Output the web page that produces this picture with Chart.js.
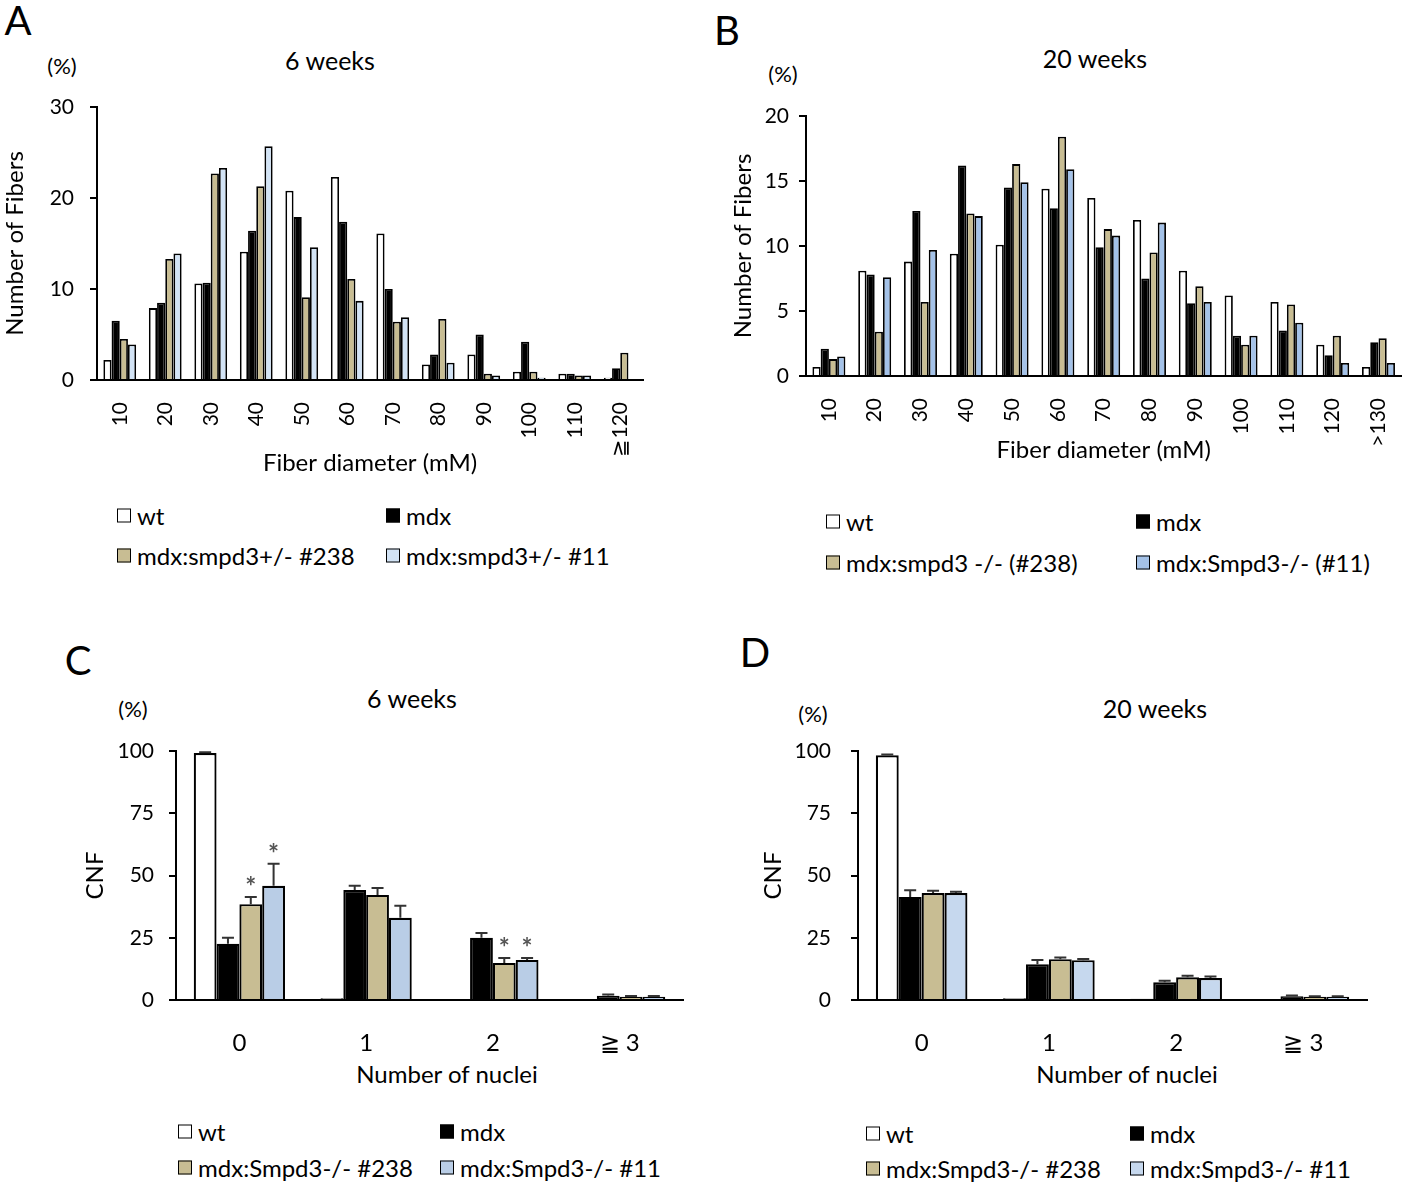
<!DOCTYPE html>
<html>
<head>
<meta charset="utf-8">
<script src="https://cdn.jsdelivr.net/npm/chart.js@4.4.1/dist/chart.umd.min.js"></script>
<style>
  body { margin: 0; background: #fff; }
  #fig { position: relative; width: 1418px; height: 1185px; overflow: hidden; font-family: Lato, "Liberation Sans", sans-serif; color: #000; }
  #fig canvas { position: absolute; }
  .t { position: absolute; white-space: nowrap; transform: translate(-50%, -50%); }
  .letter { font-size: 40px; }
  .ttl { font-size: 25px; }
  .pct { font-size: 22px; }
  .axt { font-size: 24px; }
  .lg { position: absolute; white-space: nowrap; font-size: 24px; transform: translateY(-50%); display: flex; align-items: center; }
  .lg i { display: inline-block; width: 12px; height: 12px; border: 1.5px solid #000; margin-right: 6px; }
</style>
</head>
<body>
<div id="fig">
  <div class="t letter" style="left:18px;top:20px">A</div>
  <div class="t letter" style="left:727px;top:30px">B</div>
  <div class="t letter" style="left:78px;top:660px">C</div>
  <div class="t letter" style="left:755px;top:652px">D</div>

  <div class="t ttl" style="left:330px;top:60px">6 weeks</div>
  <div class="t ttl" style="left:1095px;top:58px">20 weeks</div>
  <div class="t ttl" style="left:412px;top:698px">6 weeks</div>
  <div class="t ttl" style="left:1155px;top:708px">20 weeks</div>

  <div class="t pct" style="left:62px;top:65px">(%)</div>
  <div class="t pct" style="left:783px;top:73px">(%)</div>
  <div class="t pct" style="left:133px;top:708px">(%)</div>
  <div class="t pct" style="left:813px;top:713px">(%)</div>

  <div class="t axt" style="left:447px;top:1073px">Number of nuclei</div>
  <div class="t axt" style="left:1127px;top:1073px">Number of nuclei</div>

  <canvas id="chartA" width="700" height="490" style="left:0px;top:0px"></canvas>
  <canvas id="chartB" width="718" height="480" style="left:700px;top:0px"></canvas>
  <canvas id="chartC" width="700" height="490" style="left:0px;top:600px"></canvas>
  <canvas id="chartD" width="718" height="490" style="left:700px;top:600px"></canvas>

  <div class="lg" style="left:117px;top:515px"><i style="background:#fff"></i>wt</div>
  <div class="lg" style="left:386px;top:515px"><i style="background:#000"></i>mdx</div>
  <div class="lg" style="left:117px;top:555px"><i style="background:#c8bd93"></i>mdx:smpd3+/- #238</div>
  <div class="lg" style="left:386px;top:555px"><i style="background:#d2e3f5"></i>mdx:smpd3+/- #11</div>

  <div class="lg" style="left:826px;top:521px"><i style="background:#fff"></i>wt</div>
  <div class="lg" style="left:1136px;top:521px"><i style="background:#000"></i>mdx</div>
  <div class="lg" style="left:826px;top:562px"><i style="background:#c8bd93"></i>mdx:smpd3 -/- (#238)</div>
  <div class="lg" style="left:1136px;top:562px"><i style="background:#a4c2e8"></i>mdx:Smpd3-/- (#11)</div>

  <div class="lg" style="left:178px;top:1131px"><i style="background:#fff"></i>wt</div>
  <div class="lg" style="left:440px;top:1131px"><i style="background:#000"></i>mdx</div>
  <div class="lg" style="left:178px;top:1167px"><i style="background:#c8bd93"></i>mdx:Smpd3-/- #238</div>
  <div class="lg" style="left:440px;top:1167px"><i style="background:#b9cde6"></i>mdx:Smpd3-/- #11</div>

  <div class="lg" style="left:866px;top:1133px"><i style="background:#fff"></i>wt</div>
  <div class="lg" style="left:1130px;top:1133px"><i style="background:#000"></i>mdx</div>
  <div class="lg" style="left:866px;top:1168px"><i style="background:#c8bd93"></i>mdx:Smpd3-/- #238</div>
  <div class="lg" style="left:1130px;top:1168px"><i style="background:#c6d8ee"></i>mdx:Smpd3-/- #11</div>
</div>

<script>
// Panel A: fiber diameter distribution, 6 weeks (%)
const binsA = ['10', '20', '30', '40', '50', '60', '70', '80', '90', '100', '110', '≧120'];
const wtA = [2.2, 7.9, 10.6, 14.1, 20.8, 22.3, 16.1, 1.7, 2.8, 0.9, 0.7, 0.25];
const mdxA = [6.5, 8.5, 10.7, 16.4, 17.9, 17.4, 10.0, 2.8, 5.0, 4.2, 0.7, 1.3];
const het238A = [4.5, 13.3, 22.7, 21.3, 9.1, 11.1, 6.4, 6.7, 0.7, 0.9, 0.5, 3.0];
const het11A = [3.9, 13.9, 23.3, 25.7, 14.6, 8.7, 6.9, 1.9, 0.5, 0.25, 0.5, 0];

// Panel B: fiber diameter distribution, 20 weeks (%)
const binsB = ['10', '20', '30', '40', '50', '60', '70', '80', '90', '100', '110', '120', '>130'];
const wtB = [0.7, 8.1, 8.8, 9.4, 10.1, 14.4, 13.7, 12.0, 8.1, 6.2, 5.7, 2.4, 0.7];
const mdxB = [2.1, 7.8, 12.7, 16.2, 14.5, 12.9, 9.9, 7.5, 5.6, 3.1, 3.5, 1.6, 2.6];
const ko238B = [1.3, 3.4, 5.7, 12.5, 16.3, 18.4, 11.3, 9.5, 6.9, 2.4, 5.5, 3.1, 2.9];
const ko11B = [1.5, 7.6, 9.7, 12.3, 14.9, 15.9, 10.8, 11.8, 5.7, 3.1, 4.1, 1.0, 1.0];

// Panels C and D: centrally nucleated fibers by number of nuclei
const nuclei = ['0', '1', '2', '≧ 3'];
const wtC = [99.2, 0.7, 0, 0];
const mdxC = [22.6, 44.2, 25.0, 1.7];
const ko238C = [38.5, 42.2, 14.9, 1.3];
const ko11C = [45.9, 33.0, 16.1, 1.3];
const wtCErr = [0.3, 0, 0, 0];
const mdxCErr = [2.4, 1.7, 1.9, 0.5];
const ko238CErr = [2.9, 2.8, 2.0, 0.3];
const ko11CErr = [8.8, 4.9, 0.8, 0.3];
const starsC = [[], [], [true, false, true, false], [true, false, true, false]];

const wtD = [98.3, 0.7, 0.5, 0];
const mdxD = [41.4, 14.4, 7.1, 1.5];
const ko238D = [43.0, 16.4, 9.1, 1.3];
const ko11D = [43.0, 16.0, 8.8, 1.3];
const wtDErr = [0.3, 0, 0, 0];
const mdxDErr = [2.7, 1.7, 0.6, 0.3];
const ko238DErr = [0.9, 0.7, 0.6, 0.2];
const ko11DErr = [0.5, 0.5, 0.6, 0.2];

const FONT = 'Lato, "Liberation Sans", sans-serif';
const TAN = '#c8bd93';

// draws error bars (and significance stars) above the bars
const errorBars = {
    id: 'errorBars',
    afterDatasetsDraw(chart, args, opts) {
        if (!opts.errors) return;
        const ctx = chart.ctx;
        const yScale = chart.scales.y;
        ctx.save();
        chart.data.datasets.forEach((ds, di) => {
            const err = opts.errors[di] || [];
            const stars = (opts.stars && opts.stars[di]) || [];
            chart.getDatasetMeta(di).data.forEach((bar, i) => {
                const top = yScale.getPixelForValue(ds.data[i] + (err[i] || 0));
                if (err[i]) {
                    ctx.strokeStyle = '#333';
                    ctx.lineWidth = 2;
                    ctx.beginPath();
                    ctx.moveTo(bar.x, bar.y);
                    ctx.lineTo(bar.x, top);
                    ctx.moveTo(bar.x - 6, top);
                    ctx.lineTo(bar.x + 6, top);
                    ctx.stroke();
                }
                if (stars[i]) {
                    ctx.fillStyle = '#555';
                    ctx.font = 'bold 26px ' + FONT;
                    ctx.textAlign = 'center';
                    ctx.textBaseline = 'middle';
                    ctx.fillText('*', bar.x, top - 9);
                }
            });
        });
        ctx.restore();
    }
};

function barPanel(id, p) {
    const bw = p.borderWidth;
    const fills = ['#fff', '#000', TAN, p.blue];
    const names = ['wt', 'mdx', '238', '11'];
    return new Chart(document.getElementById(id), {
        type: 'bar',
        data: {
            labels: p.labels,
            datasets: p.series.map((s, i) => ({
                label: names[i],
                data: s,
                backgroundColor: fills[i],
                borderColor: '#000',
                borderWidth: bw,
                borderSkipped: 'bottom',
                categoryPercentage: 0.72,
                barPercentage: 1.0
            }))
        },
        options: {
            responsive: false,
            animation: false,
            layout: { padding: p.padding },
            plugins: {
                legend: { display: false },
                tooltip: { enabled: false },
                errorBars: { errors: p.errors, stars: p.stars }
            },
            scales: {
                x: {
                    grid: { display: false },
                    border: { display: true, color: '#000', width: 2 },
                    ticks: {
                        color: '#000',
                        font: { family: FONT, size: p.xTickSize },
                        minRotation: p.rotate ? 90 : 0,
                        maxRotation: p.rotate ? 90 : 0,
                        autoSkip: false,
                        padding: p.xTickPad
                    },
                    title: {
                        display: !!p.xTitle,
                        text: p.xTitle,
                        color: '#000',
                        font: { family: FONT, size: 24 },
                        padding: { top: 0, bottom: p.xTitlePad }
                    },
                    afterFit(s) { s.height = p.xHeight; }
                },
                y: {
                    min: 0,
                    max: p.yMax,
                    grid: { display: true, drawOnChartArea: false, drawTicks: true, tickLength: 7, color: '#000', lineWidth: 2 },
                    border: { display: true, color: '#000', width: 2 },
                    ticks: {
                        stepSize: p.yStep,
                        color: '#000',
                        font: { family: FONT, size: 21 },
                        padding: p.yTickPad
                    },
                    title: {
                        display: true,
                        text: p.yTitle,
                        color: '#000',
                        font: { family: FONT, size: 24 },
                        padding: { top: 1, bottom: 0 }
                    },
                    afterFit(s) { s.width = p.yWidth; }
                }
            }
        },
        plugins: [errorBars]
    });
}

barPanel('chartA', {
    labels: binsA,
    series: [wtA, mdxA, het238A, het11A],
    blue: '#d2e3f5',
    borderWidth: 1.8,
    padding: { left: 0, top: 107, right: 57, bottom: 0 },
    yWidth: 97, xHeight: 110, yMax: 30, yStep: 10,
    rotate: true, xTickSize: 21, xTickPad: 14, yTickPad: 16, xTitlePad: 12,
    xTitle: 'Fiber diameter (mM)', yTitle: 'Number of Fibers'
});

barPanel('chartB', {
    labels: binsB,
    series: [wtB, mdxB, ko238B, ko11B],
    blue: '#a4c2e8',
    borderWidth: 1.8,
    padding: { left: 28, top: 116, right: 8, bottom: 0 },
    yWidth: 78, xHeight: 104, yMax: 20, yStep: 5,
    rotate: true, xTickSize: 21, xTickPad: 14, yTickPad: 10, xTitlePad: 15,
    xTitle: 'Fiber diameter (mM)', yTitle: 'Number of Fibers'
});

barPanel('chartC', {
    labels: nuclei,
    series: [wtC, mdxC, ko238C, ko11C],
    errors: [wtCErr, mdxCErr, ko238CErr, ko11CErr],
    stars: starsC,
    blue: '#b9cde6',
    borderWidth: 2.2,
    padding: { left: 80, top: 151, right: 17, bottom: 0 },
    yWidth: 96, xHeight: 90, yMax: 100, yStep: 25,
    rotate: false, xTickSize: 24, xTickPad: 21, yTickPad: 15, xTitlePad: 3,
    xTitle: '', yTitle: 'CNF'
});

barPanel('chartD', {
    labels: nuclei,
    series: [wtD, mdxD, ko238D, ko11D],
    errors: [wtDErr, mdxDErr, ko238DErr, ko11DErr],
    blue: '#c6d8ee',
    borderWidth: 2.2,
    padding: { left: 58, top: 151, right: 51, bottom: 0 },
    yWidth: 100, xHeight: 90, yMax: 100, yStep: 25,
    rotate: false, xTickSize: 24, xTickPad: 21, yTickPad: 20, xTitlePad: 3,
    xTitle: '', yTitle: 'CNF'
});
</script>
</body>
</html>
